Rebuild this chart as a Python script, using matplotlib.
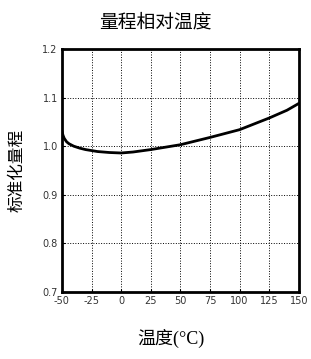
import matplotlib
matplotlib.use("Agg")
import matplotlib.pyplot as plt

plt.rcParams['font.family'] = ['Noto Sans CJK SC', 'DejaVu Sans']

temps = [-50, -49, -48, -46, -44, -40, -35, -30, -20, -10, 0, 10, 25, 50, 75, 100, 125, 140, 150]
span = [1.031, 1.022, 1.016, 1.009, 1.005, 1.0, 0.996, 0.993, 0.989, 0.987, 0.986, 0.988, 0.993, 1.003, 1.018, 1.034, 1.058, 1.074, 1.088]
xticks = [-50, -25, 0, 25, 50, 75, 100, 125, 150]
yticks = [0.7, 0.8, 0.9, 1.0, 1.1, 1.2]

fig = plt.figure(figsize=(3.11, 3.59), dpi=100)
ax = fig.add_axes([0.199, 0.1866, 0.762, 0.677])
ax.plot(temps, span, color='black', lw=2.0, solid_joinstyle='round')
ax.set_xlim(-50, 150)
ax.set_ylim(0.7, 1.2)
ax.set_xticks(xticks)
ax.set_yticks(yticks)
ax.set_xticklabels([str(t) for t in xticks], fontsize=7, color='#333333', family='DejaVu Sans')
ax.set_yticklabels([f"{v:.1f}" for v in yticks], fontsize=7, color='#333333', family='DejaVu Sans')
ax.tick_params(direction='in', length=2, width=0.8, pad=3)
ax.grid(True, color='black', linestyle=':', linewidth=0.7)
for s in ax.spines.values():
    s.set_linewidth(2.0)
fig.text(0.5, 0.938, '量程相对温度', ha='center', va='center', fontsize=13.5)
fig.text(0.055, 0.525, '标准化量程', ha='center', va='center', rotation=90, fontsize=12)
fig.text(0.55, 0.058, '温度(°C)', ha='center', va='center', fontsize=13,
         family=['Liberation Serif', 'Noto Sans CJK SC'])
fig.savefig('out.png', dpi=100)
